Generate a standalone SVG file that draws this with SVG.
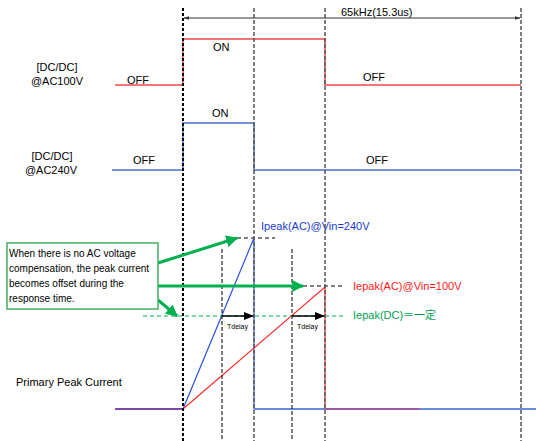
<svg xmlns="http://www.w3.org/2000/svg" width="536" height="441" viewBox="0 0 536 441">
<defs>
<style>
text{font-family:"Liberation Sans",Arial,"Noto Sans CJK JP",sans-serif;font-size:11px;fill:#000}
.sm{font-size:7px}
.bx{font-size:10px}
.vd{stroke:#555;stroke-width:1.5;stroke-dasharray:4 2;fill:none}
.vk{stroke:#000;stroke-width:2;stroke-dasharray:3 2;fill:none}
.vt{stroke:#000;stroke-width:1;stroke-dasharray:4 2;fill:none}
.hd{stroke:#555;stroke-width:1.5;stroke-dasharray:4 3;fill:none}
.red{stroke:#f04848;stroke-width:1.5;fill:none}
.blu{stroke:#4a70c8;stroke-width:1.5;fill:none}
.gr{stroke:#00b050;stroke-width:3;fill:none}
</style>
<marker id="ag" viewBox="0 0 10 10" refX="9" refY="5" markerWidth="4" markerHeight="4" orient="auto"><path d="M0,0L10,5L0,10z" fill="#00b050"/></marker>
<marker id="ak" viewBox="0 0 10 10" refX="9" refY="5" markerWidth="7" markerHeight="7" orient="auto"><path d="M0,1L10,5L0,9z" fill="#000"/></marker>
<marker id="as" viewBox="0 0 10 10" refX="9" refY="5" markerWidth="6" markerHeight="6" orient="auto-start-reverse"><path d="M0,2L10,5L0,8z" fill="#333"/></marker>
</defs>

<g id="labels">
<text x="57" y="71" text-anchor="middle">[DC/DC]</text>
<text x="57" y="85" text-anchor="middle">@AC100V</text>
<text x="52" y="160" text-anchor="middle">[DC/DC]</text>
<text x="51" y="174" text-anchor="middle">@AC240V</text>
<text x="16" y="386">Primary Peak Current</text>
</g>

<g id="signal-ac100v">
<polyline class="red" points="115,85 183,85 183,39 325,39 325,85 521,85"/>
<text x="213" y="51">ON</text>
<text x="127" y="84">OFF</text>
<text x="363" y="81">OFF</text>
</g>

<g id="signal-ac240v">
<polyline class="blu" points="112,170 183,170 183,123 254,123 254,170 521,170"/>
<text x="212" y="117">ON</text>
<text x="133" y="164">OFF</text>
<text x="366" y="164">OFF</text>
</g>

<g id="current">
<line x1="115" y1="409" x2="183" y2="409" stroke="#7a4aa8" stroke-width="2"/>
<polyline points="183,409 254,238 254,409 536,409" stroke="#2a4ee0" stroke-width="1.2" fill="none"/>
<line x1="254" y1="409" x2="536" y2="409" stroke="#5a80e0" stroke-width="1.5"/>
<polyline points="183,409 325,287 325,409" stroke="#ff2a2a" stroke-width="1.2" fill="none"/>
<line x1="325" y1="409" x2="420" y2="409" stroke="#b04a90" stroke-width="1.5"/>
<text x="261" y="230" fill="#1a3cd0" style="fill:#1a3cd0">Ipeak(AC)@Vin=240V</text>
<text x="353" y="290" style="fill:#ff1a1a">Iepak(AC)@Vin=100V</text>
<text x="353" y="319" style="fill:#00a050">Iepak(DC)＝一定</text>
</g>

<g id="guides">
<line class="vk" x1="183" y1="8" x2="183" y2="441"/>
<line class="vd" x1="254" y1="8" x2="254" y2="441"/>
<line class="vd" x1="325" y1="8" x2="325" y2="441"/>
<line class="vd" x1="521" y1="8" x2="521" y2="441"/>
<line class="vt" x1="222" y1="249" x2="222" y2="441"/>
<line class="vt" x1="292" y1="249" x2="292" y2="441"/>
<line class="hd" x1="237" y1="238" x2="275" y2="238"/>
<line class="hd" x1="303" y1="286" x2="345" y2="286"/>
<line x1="143" y1="316" x2="343" y2="316" stroke="#00b050" stroke-width="1.2" stroke-dasharray="4 3"/>
</g>

<g id="connectors">
<line x1="184" y1="18" x2="520" y2="18" stroke="#333" stroke-width="1" marker-start="url(#as)" marker-end="url(#as)"/>
<line x1="222" y1="316" x2="253" y2="316" stroke="#000" stroke-width="1.5" marker-end="url(#ak)"/>
<line x1="292" y1="316" x2="324" y2="316" stroke="#000" stroke-width="1.5" marker-end="url(#ak)"/>
<line class="gr" x1="158" y1="263" x2="237" y2="238" marker-end="url(#ag)"/>
<line class="gr" x1="158" y1="286" x2="303" y2="286" marker-end="url(#ag)"/>
<line class="gr" x1="158" y1="300" x2="177" y2="316" marker-end="url(#ag)"/>
</g>

<g id="timing-labels">
<text x="341" y="16">65kHz(15.3us)</text>
<text class="sm" x="227" y="329">Tdelay</text>
<text class="sm" x="297" y="329">Tdelay</text>
</g>

<g id="note">
<rect x="7" y="243" width="151" height="66" fill="#fff" stroke="#40b060" stroke-width="1.5"/>
<text class="bx" x="9" y="257">When there is no AC voltage</text>
<text class="bx" x="9" y="272">compensation, the peak current</text>
<text class="bx" x="9" y="287">becomes offset during the</text>
<text class="bx" x="9" y="302">response time.</text>
</g>
</svg>
